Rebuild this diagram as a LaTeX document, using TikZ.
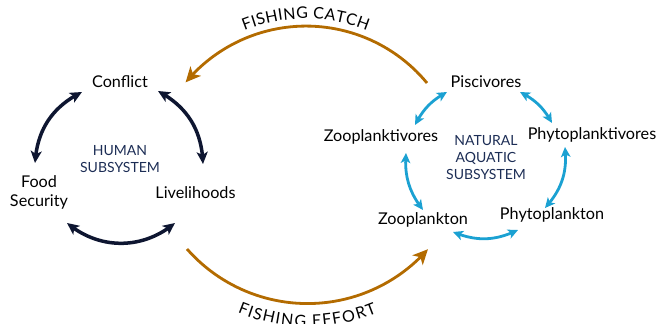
\documentclass[tikz,border=0pt]{standalone}
\usepackage{fontspec}
\setmainfont{Lato}
\usetikzlibrary{arrows.meta,bending,decorations.text}
\definecolor{navy}{HTML}{0E1631}
\definecolor{subnavy}{HTML}{1C2D55}
\definecolor{aqua}{HTML}{1BA1D2}
\definecolor{brown}{HTML}{B36B00}
\newcommand{\lblfont}{\fontsize{16.2}{19}\selectfont}
\newcommand{\subfont}{\fontsize{14}{17}\selectfont}
\newcommand{\arcfont}{\fontsize{16}{19}\selectfont}
\begin{document}
\begin{tikzpicture}[x=1pt,y=1pt,
  lbl/.style={font=\lblfont, text=black, inner sep=0pt, anchor=base},
  sublbl/.style={font=\subfont, text=subnavy, inner sep=0pt, align=center},
  humanarrow/.style={draw=navy, line width=3.5pt,
    {Stealth[length=12pt,width=11pt,inset=3pt,flex]}-{Stealth[length=12pt,width=11pt,inset=3pt,flex]}},
  aquaarrow/.style={draw=aqua, line width=2.8pt,
    {Stealth[length=10pt,width=9.5pt,inset=2.5pt,flex]}-{Stealth[length=10pt,width=9.5pt,inset=2.5pt,flex]}},
  fisharrow/.style={draw=brown, line width=2.8pt,
    -{Stealth[length=15pt,width=14pt,inset=4pt,flex]}}
]
\useasboundingbox (0,0) rectangle (659,324);

% human subsystem
\node[lbl] (conflict) at (120,236) {Conflict};
\node[lbl, anchor=center, align=center] (food) at (39,132) {Food\\Security};
\node[lbl] (livelihoods) at (195.5,125) {Livelihoods};
\node[sublbl] (human) at (120,165) {HUMAN\\SUBSYSTEM};

% natural aquatic subsystem
\node[lbl] (pisc) at (486,236) {Piscivores};
\node[lbl] (zoopv) at (381,182) {Zooplanktivores};
\node[lbl] (phytov) at (592,184) {Phytoplanktivores};
\node[lbl] (zoopl) at (423,99) {Zooplankton};
\node[lbl] (phytopl) at (552,104) {Phytoplankton};
\node[sublbl] (natural) at (486,166.5) {NATURAL\\AQUATIC\\SUBSYSTEM};

% arrow end points
\coordinate (h1a) at (82,232);  \coordinate (h1b) at (35,161);
\coordinate (h2a) at (158,233); \coordinate (h2b) at (203,160);
\coordinate (h3a) at (67,101);  \coordinate (h3b) at (175,101);
\coordinate (b1a) at (447,232); \coordinate (b1b) at (415,199);
\coordinate (b2a) at (520,232); \coordinate (b2b) at (552,201);
\coordinate (b3a) at (406,171); \coordinate (b3b) at (423,114);
\coordinate (b4a) at (565,177); \coordinate (b4b) at (545,116);
\coordinate (b5a) at (453,92);  \coordinate (b5b) at (518,94);
\coordinate (fc1) at (427,241); \coordinate (fc2) at (185,242);
\coordinate (fe1) at (187,75);  \coordinate (fe2) at (428,74);

% human arrows
\draw[humanarrow] (h1a) to[bend right=30] (h1b);
\draw[humanarrow] (h2a) to[bend left=30] (h2b);
\draw[humanarrow] (h3a) to[bend right=40] (h3b);

% aquatic arrows
\draw[aquaarrow] (b1a) to[bend right=17] (b1b);
\draw[aquaarrow] (b2a) to[bend left=17] (b2b);
\draw[aquaarrow] (b3a) to[bend right=21] (b3b);
\draw[aquaarrow] (b4a) to[bend left=24] (b4b);
\draw[aquaarrow] (b5a) to[bend right=24] (b5b);

% fishing arrows (circular arcs)
\draw[fisharrow] (fc1) arc[start angle=39.6, end angle=140.1, radius=157];
\draw[fisharrow] (fe1) arc[start angle=221.3, end angle=318.6, radius=160.5];

\path[decorate, decoration={text along path, text align=center, raise=7pt,
  text={|\arcfont\color{black}|FISHING CATCH}}]
  (fc2) arc[start angle=140.1, end angle=39.6, radius=157];
\path[decorate, decoration={text along path, text align=center, raise=-23pt,
  text={|\arcfont\color{black}|FISHING EFFORT}}]
  (fe1) arc[start angle=221.3, end angle=318.6, radius=160.5];
\end{tikzpicture}
\end{document}
